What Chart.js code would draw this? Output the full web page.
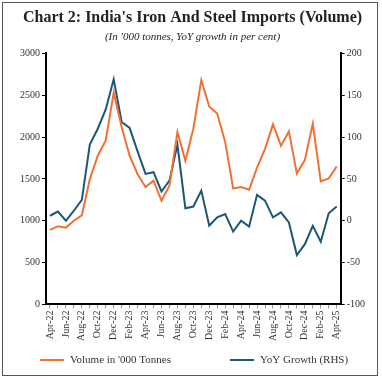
<!DOCTYPE html>
<html><head><meta charset="utf-8">
<script src="https://cdn.jsdelivr.net/npm/chart.js@4"></script>
<style>
html,body{margin:0;padding:0;background:#fff;}
#wrap{position:absolute;left:0;top:0;width:382px;height:380px;}
#frame{position:absolute;left:2px;top:2px;width:376px;height:374px;border:1px solid #555;box-sizing:border-box;pointer-events:none;}
</style></head>
<body>
<div id="wrap"><canvas id="c" width="382" height="380"></canvas><div id="frame"></div></div>
<script>
const categories = ['Apr-22','May-22','Jun-22','Jul-22','Aug-22','Sep-22','Oct-22','Nov-22','Dec-22','Jan-23','Feb-23','Mar-23',
'Apr-23','May-23','Jun-23','Jul-23','Aug-23','Sep-23','Oct-23','Nov-23','Dec-23','Jan-24','Feb-24','Mar-24',
'Apr-24','May-24','Jun-24','Jul-24','Aug-24','Sep-24','Oct-24','Nov-24','Dec-24','Jan-25','Feb-25','Mar-25','Apr-25'];
const volume = [890,935,918,1000,1065,1495,1777,1960,2530,2120,1777,1556,
1403,1480,1242,1420,2060,1717,2100,2680,2362,2282,1940,1387,
1403,1370,1636,1860,2152,1898,2068,1564,1725,2160,1471,1507,1648];
const yoyGrowth = [6,11,0,12,25,91,110,133,169,118,111,83,
56,58,35,48,91,15,17,36,-6,4,8,-13,
0,-7,31,24,4,10,-2,-41,-28,-6,-25,9,17];
const leftTicks = [0,500,1000,1500,2000,2500,3000];
const rightTicks = [-100,-50,0,50,100,150,200];
const titleText = "Chart 2: India's Iron And Steel Imports (Volume)";
const subtitleText = "(In '000 tonnes, YoY growth in per cent)";
const seriesNames = ["Volume in '000 Tonnes", 'YoY Growth (RHS)'];

const SERIF = "'Liberation Serif', 'DejaVu Serif', serif";
const orange = '#F07133';
const blue = '#1C5876';

const customLegend = {
  id: 'customLegend',
  afterDraw(chart) {
    const ctx = chart.ctx;
    const y = 360;
    const items = [{x: 40, color: orange, text: seriesNames[0]}, {x: 230, color: blue, text: seriesNames[1]}];
    ctx.save();
    ctx.font = '11px ' + SERIF;
    ctx.textBaseline = 'middle';
    ctx.textAlign = 'left';
    items.forEach(it => {
      ctx.strokeStyle = it.color;
      ctx.lineWidth = 2;
      ctx.beginPath();
      ctx.moveTo(it.x, y);
      ctx.lineTo(it.x + 24, y);
      ctx.stroke();
      ctx.fillStyle = '#333';
      ctx.fillText(it.text, it.x + 30, y);
    });
    ctx.restore();
  }
};

new Chart(document.getElementById('c'), {
  type: 'line',
  data: {
    labels: categories,
    datasets: [
      {label: seriesNames[0], data: volume, borderColor: orange, backgroundColor: orange, borderWidth: 2, pointRadius: 0, yAxisID: 'y', tension: 0},
      {label: seriesNames[1], data: yoyGrowth, borderColor: blue, backgroundColor: blue, borderWidth: 2, pointRadius: 0, yAxisID: 'y1', tension: 0}
    ]
  },
  options: {
    responsive: false,
    animation: false,
    layout: {padding: {left: 18, right: 15, top: 2, bottom: 37}},
    plugins: {
      title: {display: true, text: titleText, color: '#222', font: {family: SERIF, size: 16, weight: 'bold'}, padding: {top: 6, bottom: 3}},
      subtitle: {display: true, text: subtitleText, color: '#222', font: {family: SERIF, size: 11, style: 'italic'}, padding: {top: 0, bottom: 10}},
      legend: {display: false},
      tooltip: {enabled: false}
    },
    scales: {
      x: {
        offset: true,
        grid: {drawOnChartArea: false, drawTicks: true, tickLength: 4, color: '#999', offset: false},
        border: {color: '#000', width: 2},
        ticks: {autoSkip: false, maxRotation: 90, minRotation: 90, color: '#333', padding: 2,
          font: {family: SERIF, size: 10},
          callback: function(v, i){ return i % 2 === 0 ? categories[i] : ''; }}
      },
      y: {
        position: 'left', min: 0, max: 3000,
        afterBuildTicks: s => { s.ticks = leftTicks.map(v => ({value: v})); },
        grid: {drawOnChartArea: false, drawTicks: true, tickLength: 4, color: '#000'},
        border: {color: '#000', width: 2},
        ticks: {color: '#333', padding: 2, font: {family: SERIF, size: 10}, callback: v => String(v)}
      },
      y1: {
        position: 'right', min: -100, max: 200,
        afterBuildTicks: s => { s.ticks = rightTicks.map(v => ({value: v})); },
        grid: {drawOnChartArea: false, drawTicks: true, tickLength: 4, color: '#000'},
        border: {color: '#000', width: 2},
        ticks: {color: '#333', padding: 2, font: {family: SERIF, size: 10}, callback: v => String(v)}
      }
    }
  },
  plugins: [customLegend]
});
</script>
</body></html>
